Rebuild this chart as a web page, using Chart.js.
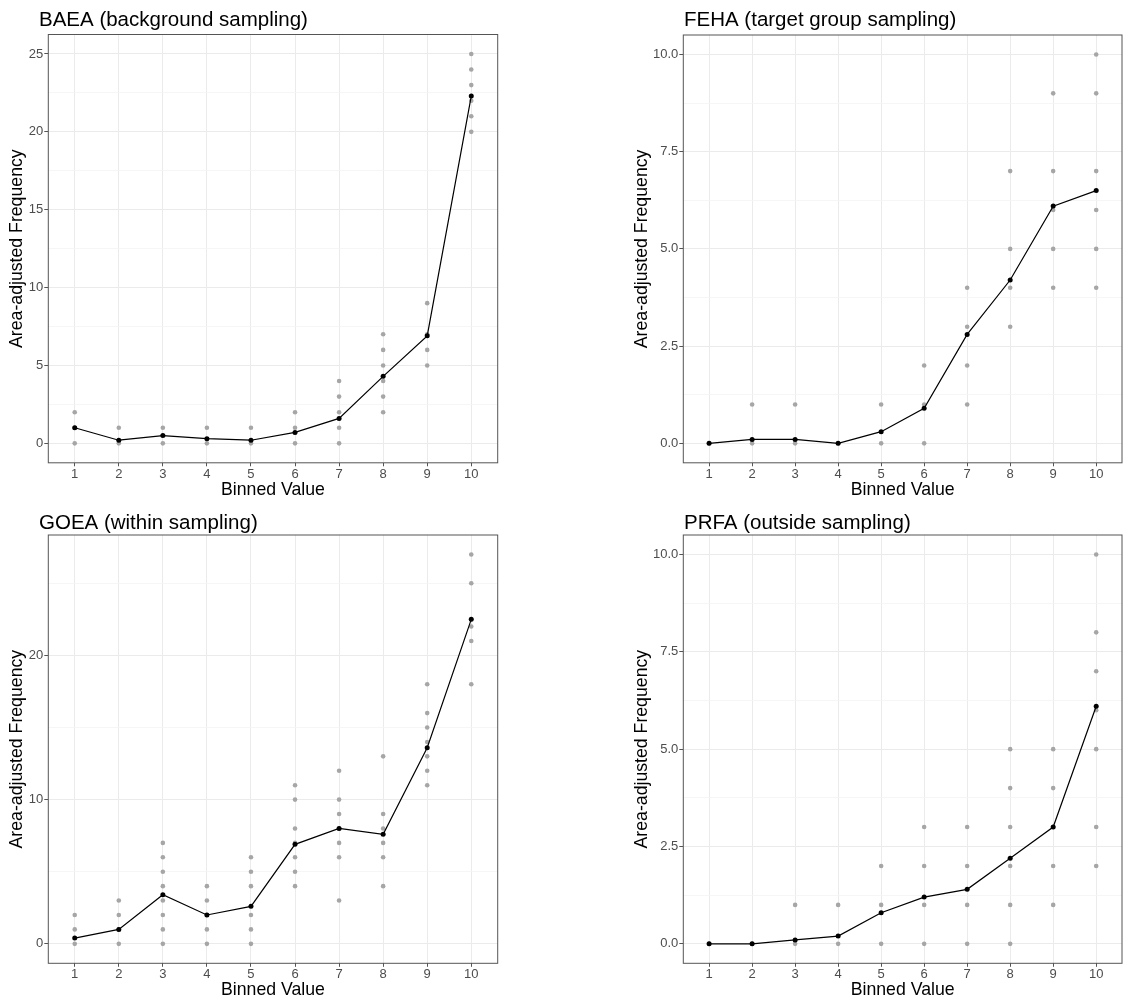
<!DOCTYPE html>
<html>
<head>
<meta charset="utf-8">
<script src="https://cdn.jsdelivr.net/npm/chart.js@4.4.1/dist/chart.umd.min.js"></script>
<style>
  html, body { margin: 0; padding: 0; background: #fff; }
  #wrap { position: relative; width: 1128px; height: 1002px; }
  canvas { position: absolute; }
</style>
</head>
<body>
<div id="wrap">
  <canvas id="baea" width="560" height="500" style="left:0;top:0"></canvas>
  <canvas id="feha" width="568" height="500" style="left:560px;top:0"></canvas>
  <canvas id="goea" width="560" height="500" style="left:0;top:500px"></canvas>
  <canvas id="prfa" width="568" height="500" style="left:560px;top:500px"></canvas>
</div>
<script>
const binLabels = ['1', '2', '3', '4', '5', '6', '7', '8', '9', '10'];

// BAEA (background sampling)
const baeaMean = [1.0, 0.2, 0.5, 0.3, 0.2, 0.7, 1.6, 4.3, 6.9, 22.3];
const baeaRuns = [[0, 1, 2], [0, 1], [0, 1], [0, 1], [0, 1], [0, 1, 2], [0, 1, 2, 3, 4],
  [2, 3, 4, 5, 6, 7], [5, 6, 7, 9], [20, 21, 22, 23, 24, 25]];
const baeaTicks = [0, 5, 10, 15, 20, 25];
const baeaTickLabels = ['0', '5', '10', '15', '20', '25'];

// FEHA (target group sampling)
const fehaMean = [0.0, 0.1, 0.1, 0.0, 0.3, 0.9, 2.8, 4.2, 6.1, 6.5];
const fehaRuns = [[0], [0, 1], [0, 1], [0], [0, 1], [0, 1, 2], [1, 2, 3, 4],
  [3, 4, 5, 7], [4, 5, 6, 7, 9], [4, 5, 6, 7, 9, 10]];
const fehaTicks = [0, 2.5, 5, 7.5, 10];
const fehaTickLabels = ['0.0', '2.5', '5.0', '7.5', '10.0'];

// GOEA (within sampling)
const goeaMean = [0.4, 1.0, 3.4, 2.0, 2.6, 6.9, 8.0, 7.6, 13.6, 22.5];
const goeaRuns = [[0, 1, 2], [0, 1, 2, 3], [0, 1, 2, 3, 4, 5, 6, 7], [0, 1, 2, 3, 4], [0, 1, 2, 4, 5, 6],
  [4, 5, 6, 7, 8, 10, 11], [3, 6, 7, 8, 9, 10, 12], [4, 6, 7, 8, 9, 13],
  [11, 12, 13, 14, 15, 16, 18], [18, 21, 22, 25, 27]];
const goeaTicks = [0, 10, 20];
const goeaTickLabels = ['0', '10', '20'];

// PRFA (outside sampling)
const prfaMean = [0.0, 0.0, 0.1, 0.2, 0.8, 1.2, 1.4, 2.2, 3.0, 6.1];
const prfaRuns = [[0], [0], [0, 1], [0, 1], [0, 1, 2], [0, 1, 2, 3], [0, 1, 2, 3],
  [0, 1, 2, 3, 4, 5], [1, 2, 3, 4, 5], [2, 3, 5, 6, 7, 8, 10]];
const prfaTicks = [0, 2.5, 5, 7.5, 10];
const prfaTickLabels = ['0.0', '2.5', '5.0', '7.5', '10.0'];

Chart.defaults.font.family = "'Liberation Sans', Arial, sans-serif";

// panel border + title, ggplot style
const panelFrame = {
  id: 'panelFrame',
  afterDraw(chart, args, o) {
    const { ctx, chartArea: a } = chart;
    ctx.save();
    ctx.strokeStyle = '#555';
    ctx.lineWidth = 1;
    ctx.strokeRect(a.left, a.top, a.right - a.left, a.bottom - a.top);
    if (o.text) {
      ctx.fillStyle = '#000';
      ctx.font = "20.5px 'Liberation Sans', Arial, sans-serif";
      ctx.textAlign = 'left';
      ctx.textBaseline = 'alphabetic';
      ctx.fillText(o.text, o.x, o.y);
    }
    ctx.restore();
  }
};
Chart.register(panelFrame);

function makePanel(id, title, mean, runs, ticks, tickLabels, g) {
  const top = Math.max(...runs.flat(), ...mean);
  const yMin = -top * 0.05, yMax = top * 1.05;
  const step = ticks[1] - ticks[0];
  const minors = [];
  for (let v = ticks[0] - step / 2; v <= yMax; v += step) {
    if (v >= yMin && !ticks.includes(v)) minors.push(v);
  }
  const allTicks = ticks.concat(minors).sort((a, b) => a - b);
  const isMajor = c => c.tick && ticks.includes(c.tick.value);

  const runPts = runs.flatMap((vals, i) => vals.map(v => ({ x: i + 1, y: v })));
  const meanPts = mean.map((v, i) => ({ x: i + 1, y: v }));

  new Chart(document.getElementById(id), {
    type: 'scatter',
    data: {
      datasets: [
        {
          type: 'line', data: meanPts, order: 0,
          borderColor: '#000', borderWidth: 1.2, tension: 0, fill: false,
          pointRadius: 2.5, pointBackgroundColor: '#000', pointBorderWidth: 0
        },
        {
          data: runPts, order: 1,
          pointRadius: 2.3, pointBackgroundColor: '#A6A6A6', pointBorderWidth: 0
        }
      ]
    },
    options: {
      responsive: false,
      animation: false,
      layout: { padding: { left: g.padLeft, right: g.padRight, top: g.padTop, bottom: 0 } },
      plugins: {
        legend: { display: false },
        tooltip: { enabled: false },
        panelFrame: { text: title, x: g.titleX, y: g.titleY }
      },
      scales: {
        x: {
          type: 'linear', min: 0.4, max: 10.6,
          afterBuildTicks: s => { s.ticks = binLabels.map((_, i) => ({ value: i + 1 })); },
          afterFit: s => { s.height = g.xAxisH; },
          ticks: {
            callback: (v, i) => binLabels[i],
            autoSkip: false, maxRotation: 0, padding: 0,
            color: '#4D4D4D', font: { size: 13 }
          },
          grid: { color: '#EBEBEB', lineWidth: 1, tickLength: 3.5, tickColor: '#555' },
          border: { display: false },
          title: {
            display: true, text: 'Binned Value', color: '#000',
            font: { size: 17.7, lineHeight: 1.1 }, padding: { top: 0, bottom: 0 }
          }
        },
        y: {
          min: yMin, max: yMax,
          afterBuildTicks: s => { s.ticks = allTicks.map(v => ({ value: v })); },
          afterFit: s => { s.width = g.yAxisW; },
          ticks: {
            callback: v => { const k = ticks.indexOf(v); return k >= 0 ? tickLabels[k] : ''; },
            autoSkip: false, padding: 1,
            color: '#4D4D4D', font: { size: 13 }
          },
          grid: {
            color: c => isMajor(c) ? '#EBEBEB' : '#F4F4F4',
            lineWidth: c => isMajor(c) ? 1 : 0.8,
            tickLength: 4,
            tickColor: c => isMajor(c) ? '#555' : 'rgba(0,0,0,0)'
          },
          border: { display: false },
          title: {
            display: true, text: 'Area-adjusted Frequency', color: '#000',
            font: { size: 17.7, lineHeight: 1.1 }, padding: { top: 7, bottom: 0 }
          }
        }
      }
    }
  });
}

const leftTop = { padLeft: 0, yAxisW: 48.3, padRight: 62.3, padTop: 34.5, xAxisH: 37.2, titleX: 39, titleY: 26 };
const rightTop = { padLeft: 65.3, yAxisW: 58, padRight: 6, padTop: 35, xAxisH: 37.2, titleX: 124, titleY: 26 };
const leftBottom = { padLeft: 0, yAxisW: 48.3, padRight: 62.3, padTop: 35, xAxisH: 36.7, titleX: 39, titleY: 28.5 };
const rightBottom = { padLeft: 65.3, yAxisW: 58, padRight: 6, padTop: 35, xAxisH: 36.7, titleX: 124, titleY: 28.5 };

makePanel('baea', 'BAEA (background sampling)', baeaMean, baeaRuns, baeaTicks, baeaTickLabels, leftTop);
makePanel('feha', 'FEHA (target group sampling)', fehaMean, fehaRuns, fehaTicks, fehaTickLabels, rightTop);
makePanel('goea', 'GOEA (within sampling)', goeaMean, goeaRuns, goeaTicks, goeaTickLabels, leftBottom);
makePanel('prfa', 'PRFA (outside sampling)', prfaMean, prfaRuns, prfaTicks, prfaTickLabels, rightBottom);
</script>
</body>
</html>
